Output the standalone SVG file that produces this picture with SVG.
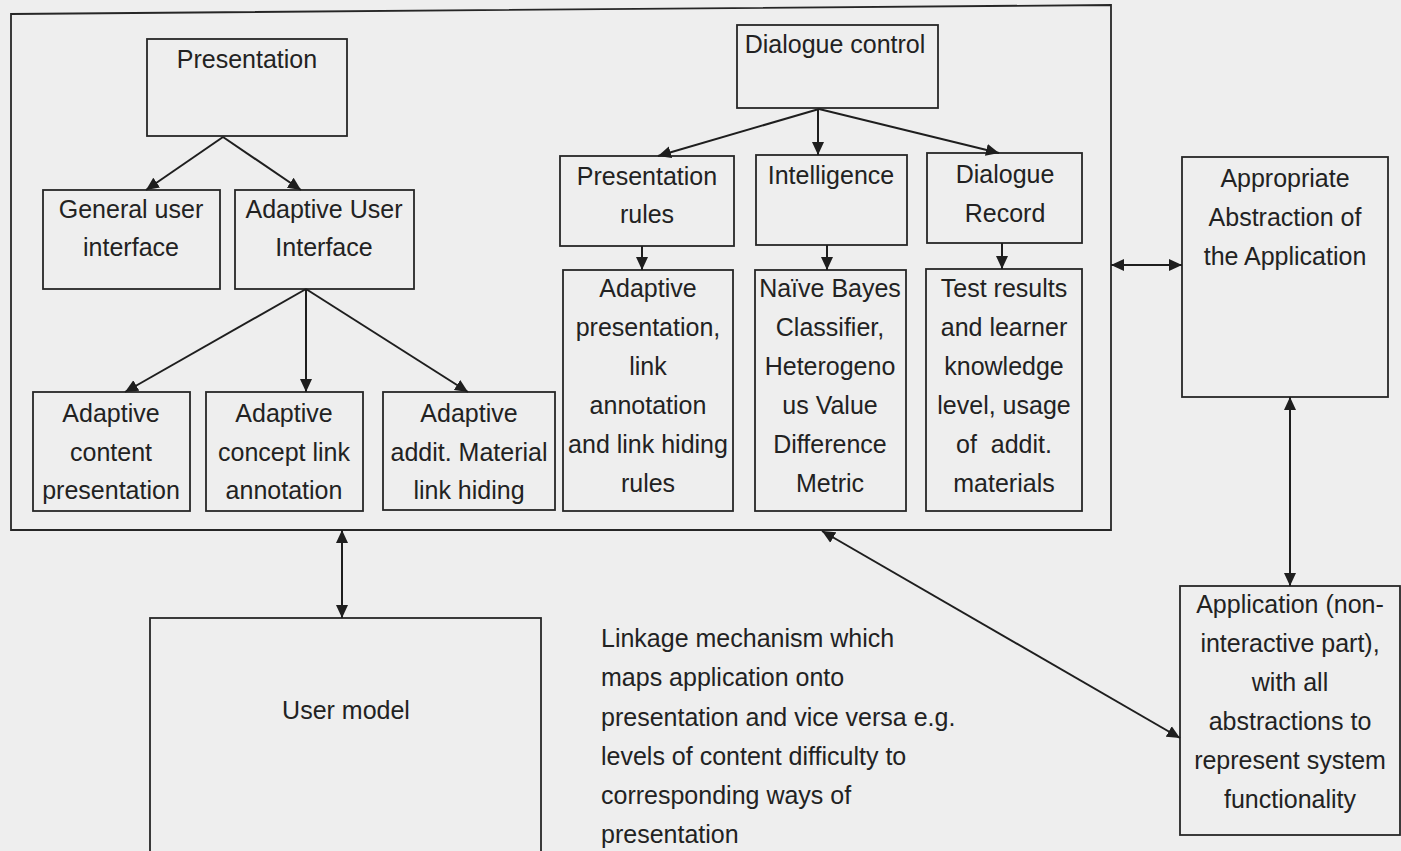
<svg xmlns="http://www.w3.org/2000/svg" width="1401" height="851" viewBox="0 0 1401 851">
<style>
.bx{fill:none;stroke:#262626;stroke-width:1.8}
.t{font-family:"Liberation Sans",Arial,sans-serif;font-size:25px;fill:#222222;text-anchor:middle}
.tl{font-family:"Liberation Sans",Arial,sans-serif;font-size:25px;fill:#222222}
.c{fill:none;stroke:#1e1e1e;stroke-width:2}
</style>
<defs>
<marker id="ah" viewBox="0 0 13 13" refX="13" refY="6.5" markerWidth="13" markerHeight="13" markerUnits="userSpaceOnUse" orient="auto-start-reverse">
<path d="M0,0.5 L13,6.5 L0,12.5 Z" fill="#1e1e1e"/>
</marker>
</defs>
<rect width="1401" height="851" fill="#eeeeee"/>
<g id="outer"><polygon class="bx" points="11,14 1111,5 1111,530 11,530"/></g>
<g id="presentation"><rect class="bx" x="147" y="39" width="200" height="97"/><text class="t" x="247" y="68">Presentation</text></g>
<g id="general-ui"><rect class="bx" x="43" y="190" width="177" height="99"/><text class="t" x="131" y="218">General user</text><text class="t" x="131" y="256">interface</text></g>
<g id="adaptive-ui"><rect class="bx" x="235" y="190" width="179" height="99"/><text class="t" x="324" y="218">Adaptive User</text><text class="t" x="324" y="256">Interface</text></g>
<g id="adaptive-content"><rect class="bx" x="33" y="392" width="157" height="119"/><text class="t" x="111" y="422">Adaptive</text><text class="t" x="111" y="461">content</text><text class="t" x="111" y="499">presentation</text></g>
<g id="adaptive-concept"><rect class="bx" x="206" y="392" width="157" height="119"/><text class="t" x="284" y="422">Adaptive</text><text class="t" x="284" y="461">concept link</text><text class="t" x="284" y="499">annotation</text></g>
<g id="adaptive-addit"><rect class="bx" x="383" y="392" width="172" height="118"/><text class="t" x="469" y="422">Adaptive</text><text class="t" x="469" y="461">addit. Material</text><text class="t" x="469" y="499">link hiding</text></g>
<g id="dialogue-control"><rect class="bx" x="737" y="25" width="201" height="83"/><text class="t" x="835" y="53">Dialogue control</text></g>
<g id="presentation-rules"><rect class="bx" x="560" y="156" width="174" height="90"/><text class="t" x="647" y="185">Presentation</text><text class="t" x="647" y="223">rules</text></g>
<g id="intelligence"><rect class="bx" x="756" y="155" width="151" height="90"/><text class="t" x="831" y="184">Intelligence</text></g>
<g id="dialogue-record"><rect class="bx" x="927" y="153" width="155" height="90"/><text class="t" x="1005" y="183">Dialogue</text><text class="t" x="1005" y="222">Record</text></g>
<g id="adaptive-presentation"><rect class="bx" x="563" y="270" width="170" height="241"/><text class="t" x="648" y="297">Adaptive</text><text class="t" x="648" y="336">presentation,</text><text class="t" x="648" y="375">link</text><text class="t" x="648" y="414">annotation</text><text class="t" x="648" y="453">and link hiding</text><text class="t" x="648" y="492">rules</text></g>
<g id="naive-bayes"><rect class="bx" x="755" y="270" width="151" height="241"/><text class="t" x="830" y="297">Naïve Bayes</text><text class="t" x="830" y="336">Classifier,</text><text class="t" x="830" y="375">Heterogeno</text><text class="t" x="830" y="414">us Value</text><text class="t" x="830" y="453">Difference</text><text class="t" x="830" y="492">Metric</text></g>
<g id="test-results"><rect class="bx" x="926" y="269" width="156" height="242"/><text class="t" x="1004" y="297">Test results</text><text class="t" x="1004" y="336">and learner</text><text class="t" x="1004" y="375">knowledge</text><text class="t" x="1004" y="414">level, usage</text><text class="t" x="1004" y="453" xml:space="preserve">of  addit.</text><text class="t" x="1004" y="492">materials</text></g>
<g id="appropriate-abstraction"><rect class="bx" x="1182" y="157" width="206" height="240"/><text class="t" x="1285" y="187">Appropriate</text><text class="t" x="1285" y="226">Abstraction of</text><text class="t" x="1285" y="265">the Application</text></g>
<g id="application"><rect class="bx" x="1180" y="586" width="220" height="249"/><text class="t" x="1290" y="613">Application (non-</text><text class="t" x="1290" y="652">interactive part),</text><text class="t" x="1290" y="691">with all</text><text class="t" x="1290" y="730">abstractions to</text><text class="t" x="1290" y="769">represent system</text><text class="t" x="1290" y="808">functionality</text></g>
<g id="user-model"><rect class="bx" x="150" y="618" width="391" height="250"/><text class="t" x="346" y="719">User model</text></g>
<g id="linkage-text"><text class="tl" x="601" y="647">Linkage mechanism which</text><text class="tl" x="601" y="686">maps application onto</text><text class="tl" x="601" y="726">presentation and vice versa e.g.</text><text class="tl" x="601" y="765">levels of content difficulty to</text><text class="tl" x="601" y="804">corresponding ways of</text><text class="tl" x="601" y="843">presentation</text></g>
<g id="connectors">
<line class="c" x1="223" y1="137" x2="146" y2="190" marker-end="url(#ah)"/>
<line class="c" x1="223" y1="137" x2="301" y2="190" marker-end="url(#ah)"/>
<line class="c" x1="306" y1="289" x2="125" y2="392" marker-end="url(#ah)"/>
<line class="c" x1="306" y1="289" x2="306" y2="392" marker-end="url(#ah)"/>
<line class="c" x1="306" y1="289" x2="468" y2="392" marker-end="url(#ah)"/>
<line class="c" x1="819" y1="109" x2="658" y2="156" marker-end="url(#ah)"/>
<line class="c" x1="818" y1="109" x2="818" y2="155" marker-end="url(#ah)"/>
<line class="c" x1="819" y1="109" x2="999" y2="153" marker-end="url(#ah)"/>
<line class="c" x1="642" y1="246" x2="642" y2="270" marker-end="url(#ah)"/>
<line class="c" x1="827" y1="245" x2="827" y2="270" marker-end="url(#ah)"/>
<line class="c" x1="1002" y1="243" x2="1002" y2="269" marker-end="url(#ah)"/>
<line class="c" x1="1111" y1="265" x2="1182" y2="265" marker-start="url(#ah)" marker-end="url(#ah)"/>
<line class="c" x1="1290" y1="397" x2="1290" y2="586" marker-start="url(#ah)" marker-end="url(#ah)"/>
<line class="c" x1="342" y1="530" x2="342" y2="618" marker-start="url(#ah)" marker-end="url(#ah)"/>
<line class="c" x1="822" y1="531" x2="1180" y2="738" marker-start="url(#ah)" marker-end="url(#ah)"/>
</g>
</svg>
